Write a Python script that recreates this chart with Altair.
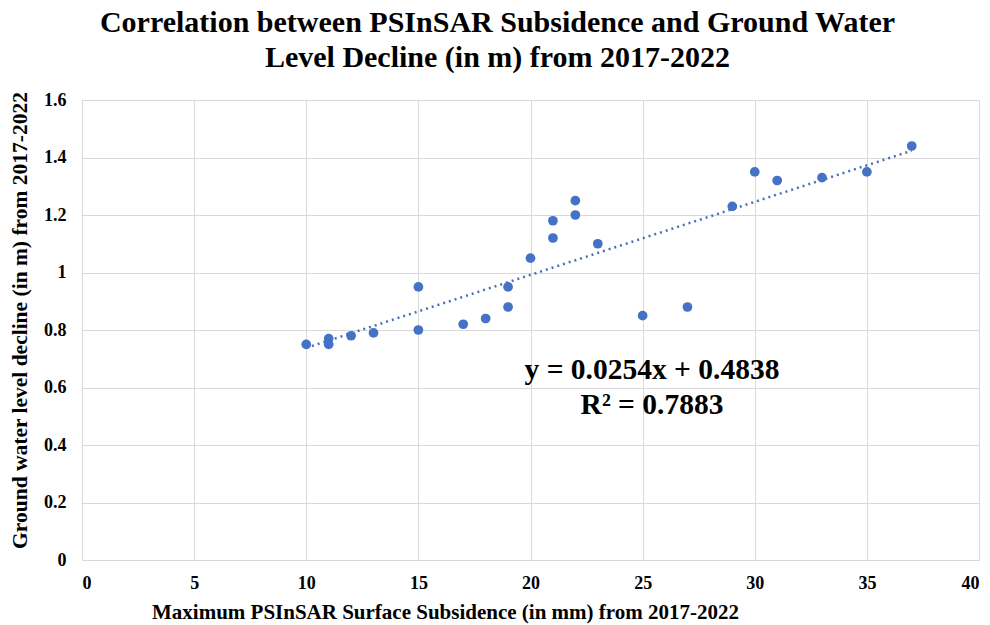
import altair as alt
import pandas as pd

subsidence = [10, 11, 11, 12, 13, 15, 15, 17, 18, 19, 19, 20, 21, 21, 22, 22, 23, 25, 27, 29, 30, 31, 33, 35, 37]
decline = [0.75, 0.77, 0.75, 0.78, 0.79, 0.95, 0.80, 0.82, 0.84, 0.95, 0.88, 1.05, 1.18, 1.12, 1.25, 1.20, 1.10, 0.85, 0.88, 1.23, 1.35, 1.32, 1.33, 1.35, 1.44]
slope = 0.0254
intercept = 0.4838
trend_x = [10, 37]
x_ticks = [0, 5, 10, 15, 20, 25, 30, 35, 40]
y_ticks = [0, 0.2, 0.4, 0.6, 0.8, 1.0, 1.2, 1.4, 1.6]
eq_lines = ["y = 0.0254x + 0.4838", "R² = 0.7883"]

df = pd.DataFrame({"x": subsidence, "y": decline})
tdf = pd.DataFrame({"x": trend_x, "y": [slope * v + intercept for v in trend_x]})

FONT = "Liberation Serif"
BLUE = "#4472C4"

xs = alt.Scale(domain=[0, 40], nice=False)
ys = alt.Scale(domain=[0, 1.6], nice=False)

xaxis = alt.Axis(values=x_ticks, grid=True, gridColor="#d9d9d9", domainColor="#d9d9d9",
                 ticks=False, labelFont=FONT, labelFontSize=18, labelFontWeight="bold",
                 labelColor="black", labelPadding=14,
                 title="Maximum PSInSAR Surface Subsidence (in mm) from 2017-2022",
                 titleFont=FONT, titleFontSize=21, titleFontWeight="bold", titleColor="black",
                 titleX=363, titleY=58, titleAnchor="middle", titleAlign="center", titleBaseline="alphabetic")
yaxis = alt.Axis(values=y_ticks, grid=True, gridColor="#d9d9d9", domainColor="#d9d9d9",
                 ticks=False, labelFont=FONT, labelFontSize=18, labelFontWeight="bold",
                 labelColor="black", labelPadding=16,
                 labelExpr="datum.value == 1 ? '1' : datum.value == 0 ? '0' : format(datum.value, '.1f')",
                 title="Ground water level decline (in m) from 2017-2022",
                 titleFont=FONT, titleFontSize=21.5, titleFontWeight="bold", titleColor="black",
                 titleX=-62, titleY=220, titleAngle=-90, titleAlign="center", titleBaseline="middle")

points = alt.Chart(df).mark_circle(size=95, color=BLUE, opacity=1).encode(
    x=alt.X("x:Q", scale=xs, axis=xaxis),
    y=alt.Y("y:Q", scale=ys, axis=yaxis),
)

trend = alt.Chart(tdf).mark_line(color="#4a6fb5", strokeWidth=2.5, strokeDash=[2, 4]).encode(
    x=alt.X("x:Q", scale=xs),
    y=alt.Y("y:Q", scale=ys),
)

def eq_text(line, ypix):
    return alt.Chart(pd.DataFrame({"t": [line]})).mark_text(
        font=FONT, fontSize=29.5, fontWeight="bold", color="black", align="center", baseline="middle"
    ).encode(text="t:N", x=alt.value(570), y=alt.value(ypix))

eq1 = eq_text(eq_lines[0], 270)
eq2 = eq_text(eq_lines[1], 305)

chart = alt.layer(trend, points, eq1, eq2).properties(
    width=897, height=460,
    autosize=alt.AutoSizeParams(type="none"),
    padding={"left": 74, "top": 92, "right": 3, "bottom": 65},
    title=alt.TitleParams(
        text=["Correlation between PSInSAR Subsidence and Ground Water", "Level Decline (in m) from 2017-2022"],
        font=FONT, fontSize=30, fontWeight="bold", color="black", lineHeight=35, offset=18,
        anchor="middle", dx=-33,
    ),
).configure_view(stroke=None).configure(background="white")

chart.save("out.html", embed_options={"renderer": "svg", "actions": False})
